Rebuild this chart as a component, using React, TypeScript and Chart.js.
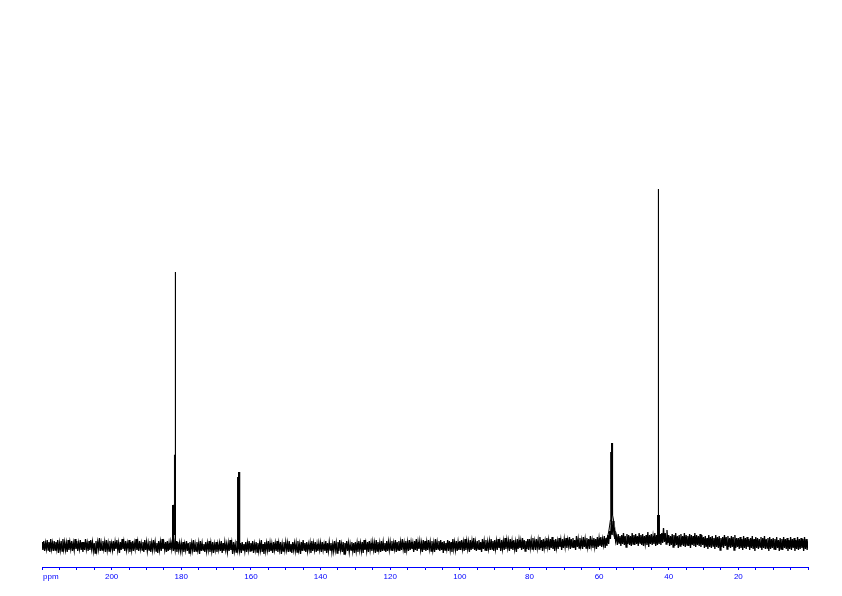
import { useEffect, useRef } from "react";
import { Chart, registerables } from "chart.js";

Chart.register(...registerables);

// Axis (ppm, reversed)
const PPM_LEFT = 220;
const PPM_RIGHT = 0;
const GRID_STEP = 0.5;
const MINOR_STEP = 5;
const majorTickValues = [200, 180, 160, 140, 120, 100, 80, 60, 40, 20];
const axisUnitLabel = "ppm";

// Baseline noise envelope, read every 0.5 ppm from 220 down to 0: upper and lower excursions
const noiseUpper: number[] = [
  3, 4, 2, 5, 3, 6, 2, 4, 3, 5, 2, 4, 6, 3, 2, 5, 3, 4, 2, 6,
  4, 2, 5, 3, 3, 6, 2, 4, 5, 3, 2, 4, 3, 7, 2, 4, 3, 5, 2, 4,
  2, 4, 3, 5, 2, 3, 6, 3, 4, 2, 5, 3, 4, 2, 6, 3, 4, 2, 3, 5,
  3, 2, 4, 2, 5, 3, 2, 4, 3, 6, 2, 3, 4, 2, 3, 5, 2, 4, 3, 2,
  2, 3, 1, 4, 2, 3, 2, 5, 1, 3, 2, 4, 2, 1, 3, 2, 4, 2, 3, 1,
  3, 1, 2, 4, 2, 3, 1, 2, 5, 2, 3, 1, 4, 2, 2, 3, 1, 3, 2, 4,
  2, 4, 1, 3, 2, 2, 5, 1, 3, 2, 4, 2, 1, 3, 2, 4, 2, 3, 1, 3,
  3, 2, 4, 1, 3, 2, 2, 4, 1, 3, 5, 2, 3, 1, 2, 4, 2, 3, 1, 2,
  2, 3, 1, 4, 2, 3, 2, 1, 4, 2, 3, 5, 1, 3, 2, 4, 2, 1, 3, 2,
  3, 2, 4, 2, 3, 5, 2, 3, 4, 2, 3, 2, 5, 3, 2, 4, 3, 2, 4, 3,
  3, 4, 2, 5, 3, 4, 3, 6, 2, 4, 3, 5, 3, 2, 4, 6, 3, 4, 2, 5,
  4, 3, 5, 3, 4, 2, 6, 3, 4, 5, 3, 4, 2, 5, 4, 3, 6, 3, 4, 3,
  4, 5, 3, 6, 4, 3, 5, 4, 7, 3, 4, 5, 3, 6, 4, 5, 3, 4, 6, 4,
  5, 4, 6, 3, 5, 4, 7, 5, 4, 6, 4, 5, 3, 6, 5, 4, 7, 5, 4, 6,
  6, 5, 7, 4, 6, 5, 8, 5, 6, 4, 7, 5, 6, 8, 5, 6, 4, 7, 5, 6,
  6, 7, 5, 8, 6, 7, 5, 9, 6, 7, 5, 8, 6, 7, 6, 9, 5, 7, 6, 8,
  7, 8, 6, 9, 7, 10, 14, 22, 24, 15, 9, 11, 9, 10, 12, 9, 11, 10, 9, 12,
  10, 11, 9, 12, 10, 11, 9, 10, 13, 10, 11, 9, 12, 10, 10, 11, 12, 17, 12, 15,
  10, 9, 11, 10, 12, 9, 10, 11, 9, 12, 10, 9, 11, 10, 9, 12, 10, 9, 11, 10,
  8, 9, 7, 10, 8, 9, 7, 10, 8, 9, 7, 8, 10, 8, 9, 7, 9, 8, 10, 7,
  7, 8, 6, 9, 7, 8, 6, 7, 9, 6, 8, 7, 6, 8, 7, 9, 6, 7, 8, 6,
  7, 6, 8, 5, 7, 6, 8, 6, 7, 5, 8, 6, 7, 5, 8, 6, 7, 6, 8, 6,
  6,
];

const noiseLower: number[] = [
  -5, -6, -4, -5, -7, -4, -6, -5, -4, -8, -5, -6, -4, -5, -7, -5, -4, -6, -5, -4,
  -6, -4, -5, -7, -5, -4, -6, -5, -4, -6, -8, -5, -4, -6, -5, -4, -7, -5, -6, -4,
  -5, -6, -4, -5, -8, -5, -4, -6, -5, -4, -7, -5, -6, -4, -5, -6, -4, -5, -7, -5,
  -6, -5, -7, -5, -4, -6, -8, -5, -6, -4, -5, -7, -6, -5, -4, -6, -5, -7, -5, -6,
  -6, -7, -5, -6, -8, -6, -5, -7, -6, -5, -9, -6, -5, -7, -6, -5, -7, -6, -8, -5,
  -7, -5, -6, -8, -6, -5, -7, -6, -5, -9, -6, -7, -5, -6, -8, -5, -6, -7, -5, -6,
  -6, -8, -5, -7, -6, -5, -7, -9, -6, -5, -7, -6, -8, -5, -6, -7, -5, -9, -6, -5,
  -5, -7, -6, -8, -5, -6, -7, -5, -9, -6, -5, -7, -6, -5, -8, -6, -5, -7, -6, -5,
  -7, -5, -6, -8, -6, -5, -7, -6, -5, -8, -6, -5, -7, -9, -5, -6, -7, -5, -6, -8,
  -6, -7, -5, -6, -8, -5, -6, -7, -5, -6, -5, -8, -6, -5, -7, -6, -5, -7, -6, -5,
  -5, -6, -4, -7, -5, -6, -5, -4, -8, -5, -6, -5, -4, -7, -5, -6, -4, -5, -7, -5,
  -6, -5, -4, -6, -5, -7, -5, -4, -6, -5, -8, -5, -4, -6, -5, -7, -4, -5, -6, -5,
  -5, -4, -6, -5, -4, -7, -5, -4, -5, -6, -4, -5, -7, -4, -5, -6, -4, -5, -4, -6,
  -4, -5, -3, -6, -4, -5, -4, -3, -6, -4, -5, -4, -7, -4, -3, -5, -4, -6, -4, -5,
  -3, -4, -2, -5, -3, -4, -3, -6, -3, -4, -2, -5, -3, -4, -6, -3, -4, -2, -5, -3,
  -2, -3, -1, -4, -2, -3, -5, -2, -3, -1, -4, -2, -3, -2, -4, -1, -3, -2, -4, -2,
  -1, -2, 0, -3, -1, 1, 6, 10, 12, 4, 0, 2, -1, 1, 0, -2, 1, 0, -1, 1,
  0, 1, -1, 2, 0, -1, 1, 0, -2, 1, 0, 1, -1, 0, 1, 0, 2, 3, 1, 2,
  -1, 0, -2, -1, 0, -3, -1, 0, -1, -2, 0, -1, -3, 0, -1, -2, 0, -1, -2, 0,
  -3, -2, -4, -2, -3, -1, -4, -2, -3, -5, -2, -3, -1, -4, -2, -3, -2, -5, -3, -2,
  -4, -3, -5, -3, -4, -2, -5, -3, -4, -6, -3, -4, -2, -5, -3, -4, -3, -6, -4, -3,
  -4, -5, -3, -6, -4, -5, -3, -4, -6, -4, -5, -3, -6, -4, -5, -4, -3, -6, -4, -5,
  -4,
];

// Peak shapes (ppm, intensity); back-and-forth strokes fill the narrow multiplet blocks
const peak1Ppm = [182.66, 182.63, 182.55, 182.47, 182.39, 182.31, 182.23, 182.15, 182.08, 182.05, 181.95, 181.87, 181.8, 181.72, 181.64];
const peak1Int = [-1, 40, 0, 40, 0, 40, 0, 40, 40, 90, 10, 90, 90, 273, -2];

const peak2Ppm = [163.84, 163.8, 163.74, 163.68, 163.62, 163.56, 163.5, 163.45, 163.38, 163.32, 163.26, 163.2, 163.16];
const peak2Int = [-1, 68, -1, 68, -1, 68, -1, 73, -1, 73, -1, 73, -2];

const peak3Ppm = [58.0, 57.5, 57.2, 56.95, 56.75, 56.62, 56.6, 56.52, 56.44, 56.42, 56.4, 56.32, 56.24, 56.15, 56.12, 55.85, 55.65, 55.45];
const peak3Int = [5, 9, 14, 20, 25, 30, 93, 20, 93, 93, 102, 20, 102, 102, 30, 25, 14, 6];

const peak4Ppm = [43.32, 43.29, 43.22, 43.15, 43.08, 43.02, 43.0, 42.98, 42.92, 42.85, 42.78, 42.72, 42.69];
const peak4Int = [6, 30, 6, 30, 6, 30, 356, 30, 6, 30, 6, 30, 6];

const Y_MIN = -22;
const Y_MAX = 525;

const BLUE = "#0000ff";
const TICK_FONT = { family: "'Liberation Sans', Arial, sans-serif", size: 8 };

function pairs(xs: number[], ys: number[]) {
  return xs.map((x, i) => ({ x, y: ys[i] }));
}

export default function App() {
  const ref = useRef<HTMLCanvasElement | null>(null);

  useEffect(() => {
    if (!ref.current) return;
    const baseData: { x: number; y: number }[] = [];
    noiseUpper.forEach((u, i) => {
      const x = PPM_LEFT - i * GRID_STEP;
      baseData.push({ x, y: u });
      if (x - GRID_STEP / 2 >= PPM_RIGHT) baseData.push({ x: x - GRID_STEP / 2, y: noiseLower[i] });
    });

    const ppmLabelPlugin = {
      id: "ppmLabel",
      afterDraw(chart: any) {
        const xs = chart.scales.x;
        const ctx = chart.ctx;
        ctx.save();
        ctx.fillStyle = BLUE;
        ctx.font = `${TICK_FONT.size}px ${TICK_FONT.family}`;
        ctx.textAlign = "left";
        ctx.textBaseline = "top";
        ctx.fillText(axisUnitLabel, xs.getPixelForValue(PPM_LEFT) + 1, xs.top + 6);
        ctx.restore();
      },
    };

    const line = { borderColor: "#000", borderWidth: 1, pointRadius: 0, tension: 0 };

    const chart = new Chart(ref.current, {
      type: "line",
      data: {
        datasets: [
          { data: baseData, ...line, borderWidth: 1.3 },
          { data: pairs(peak1Ppm, peak1Int), ...line },
          { data: pairs(peak2Ppm, peak2Int), ...line },
          { data: pairs(peak3Ppm, peak3Int), ...line },
          { data: pairs(peak4Ppm, peak4Int), ...line },
        ],
      },
      options: {
        animation: false,
        responsive: false,
        devicePixelRatio: 1,
        parsing: false,
        normalized: true,
        events: [],
        layout: { padding: { left: 42, right: 34, top: 20, bottom: 0 } },
        plugins: { legend: { display: false }, tooltip: { enabled: false }, title: { display: false } },
        scales: {
          x: {
            type: "linear",
            min: PPM_RIGHT,
            max: PPM_LEFT,
            reverse: true,
            border: { color: BLUE, width: 1 },
            grid: { display: true, drawOnChartArea: false, drawTicks: true, tickLength: 3, tickColor: BLUE, color: BLUE },
            ticks: {
              stepSize: MINOR_STEP,
              autoSkip: false,
              maxRotation: 0,
              minRotation: 0,
              padding: 2,
              color: BLUE,
              font: TICK_FONT,
              callback: (v: any) => (majorTickValues.includes(Number(v)) ? String(v) : ""),
            },
            afterFit: (scale: any) => {
              scale.height = 29;
            },
          },
          y: { type: "linear", display: false, min: Y_MIN, max: Y_MAX },
        },
      },
      plugins: [ppmLabelPlugin],
    });
    return () => chart.destroy();
  }, []);

  return (
    <div style={{ position: "absolute", left: 0, top: 0, width: 842, height: 596, background: "#fff" }}>
      <canvas ref={ref} width={842} height={596} style={{ width: 842, height: 596, display: "block" }} />
    </div>
  );
}
